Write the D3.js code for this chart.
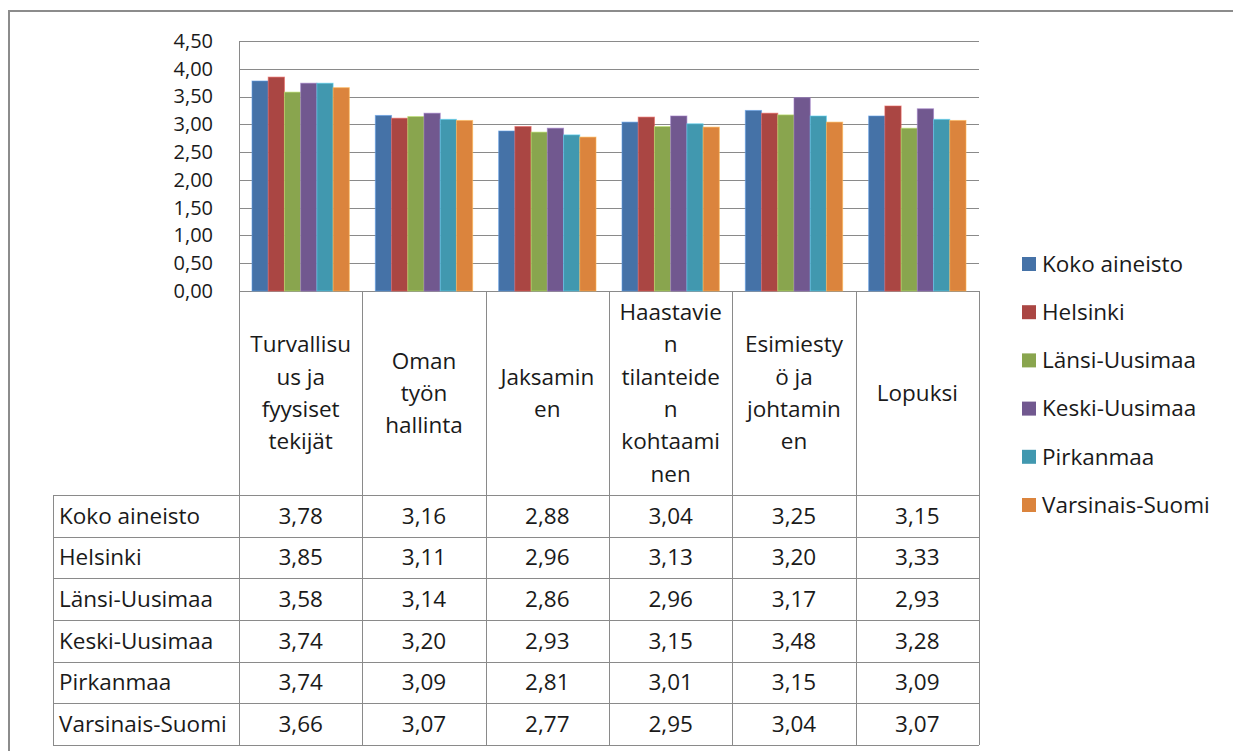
<!DOCTYPE html>
<html>
<head>
<meta charset="utf-8">
<script src="https://cdn.jsdelivr.net/npm/d3@7"></script>
<style>
  html, body { margin: 0; padding: 0; background: #fff; }
  svg text { font-family: "Open Sans", sans-serif; fill: #1a1a1a; }
</style>
</head>
<body>
<svg id="chart" width="1233" height="751"></svg>
<script>
// Category headers, already wrapped into the lines shown in the table header
const categories = [
  "Turvallisuus ja fyysiset tekijät",
  "Oman työn hallinta",
  "Jaksaminen",
  "Haastavien tilanteiden kohtaaminen",
  "Esimiestyö ja johtaminen",
  "Lopuksi"
];
const categoryLines = [
  ["Turvallisu", "us ja", "fyysiset", "tekijät"],
  ["Oman", "työn", "hallinta"],
  ["Jaksamin", "en"],
  ["Haastavie", "n", "tilanteide", "n", "kohtaami", "nen"],
  ["Esimiesty", "ö ja", "johtamin", "en"],
  ["Lopuksi"]
];

const seriesNames = ["Koko aineisto", "Helsinki", "Länsi-Uusimaa", "Keski-Uusimaa", "Pirkanmaa", "Varsinais-Suomi"];

const kokoAineisto   = [3.78, 3.16, 2.88, 3.04, 3.25, 3.15];
const helsinki       = [3.85, 3.11, 2.96, 3.13, 3.20, 3.33];
const lansiUusimaa   = [3.58, 3.14, 2.86, 2.96, 3.17, 2.93];
const keskiUusimaa   = [3.74, 3.20, 2.93, 3.15, 3.48, 3.28];
const pirkanmaa      = [3.74, 3.09, 2.81, 3.01, 3.15, 3.09];
const varsinaisSuomi = [3.66, 3.07, 2.77, 2.95, 3.04, 3.07];

const yTicks = [0, 0.5, 1, 1.5, 2, 2.5, 3, 3.5, 4, 4.5];

const colors = ["#4572A7", "#AA4643", "#89A54E", "#71588F", "#4198AF", "#DB843D"];

const seriesValues = [kokoAineisto, helsinki, lansiUusimaa, keskiUusimaa, pirkanmaa, varsinaisSuomi];
const series = seriesNames.map((name, i) => ({ name, values: seriesValues[i], color: colors[i] }));

const fmt = v => d3.format(".2f")(v).replace(".", ",");

// Layout
const plot = { left: 239, right: 979, top: 41, bottom: 291 };
const headerBottom = 495;
const tableBottom = 745;
const labelColLeft = 53;
const fontSize = 22.5;
const tickFontSize = 20;
const gridColor = "#8a8a8a";
const crisp = v => Math.round(v) + 0.5;

const svg = d3.select("#chart");

// Outer chart frame (top and left edges visible)
svg.append("path")
  .attr("d", `M9,752 L9,11 L1234,11`)
  .attr("fill", "none")
  .attr("stroke", "#8c8c8c")
  .attr("stroke-width", 2);

const x = d3.scaleBand().domain(categories).range([plot.left, plot.right]).paddingInner(0).paddingOuter(0);
const xs = d3.scaleBand().domain(seriesNames).range([13, x.bandwidth() - 13]).padding(0);
const y = d3.scaleLinear().domain([0, 4.5]).range([plot.bottom, plot.top]);

// Gridlines
svg.append("g")
  .call(d3.axisLeft(y).tickValues(yTicks).tickSize(0).tickFormat(""))
  .call(g => g.select(".domain").remove())
  .call(g => g.selectAll(".tick").attr("transform", d => `translate(0,${crisp(y(d))})`))
  .call(g => g.selectAll(".tick line")
    .attr("x1", plot.left).attr("x2", plot.right)
    .attr("stroke", gridColor));

// Y tick labels
svg.append("g")
  .attr("transform", `translate(${plot.left - 26},0)`)
  .call(d3.axisLeft(y).tickValues(yTicks).tickSize(0).tickPadding(0).tickFormat(fmt))
  .call(g => g.select(".domain").remove())
  .call(g => g.selectAll(".tick text")
    .attr("font-size", tickFontSize)
    .attr("font-family", null)
    .attr("fill", "#1a1a1a"));

// Bars
const groups = svg.append("g").selectAll("g")
  .data(series)
  .join("g")
  .attr("fill", d => d.color);

groups.selectAll("rect")
  .data(d => d.values.map((v, i) => ({ v, cat: categories[i], s: d })))
  .join("rect")
  .attr("x", d => x(d.cat) + xs(d.s.name))
  .attr("y", d => y(d.v))
  .attr("width", xs.bandwidth())
  .attr("height", d => y(0) - y(d.v))
  .attr("stroke", d => d3.color(d.s.color).brighter(0.9))
  .attr("stroke-opacity", 0.6)
  .attr("stroke-width", 1);

// Table grid
const tbl = svg.append("g")
  .attr("stroke", gridColor)
  .attr("stroke-width", 1);

// vertical category boundaries
const boundaries = categories.map(c => x(c)).concat([plot.right]);
tbl.selectAll("line.v")
  .data(boundaries)
  .join("line")
  .attr("class", "v")
  .attr("x1", d => crisp(d)).attr("x2", d => crisp(d))
  .attr("y1", (d, i) => i === 0 ? plot.top : plot.bottom)
  .attr("y2", tableBottom);

// row lines
const rowY = d3.scaleBand().domain(seriesNames).range([headerBottom, tableBottom]);
const rowLines = [headerBottom].concat(seriesNames.map(n => rowY(n) + rowY.bandwidth()));
tbl.selectAll("line.h")
  .data(rowLines)
  .join("line")
  .attr("class", "h")
  .attr("x1", labelColLeft).attr("x2", plot.right)
  .attr("y1", d => crisp(d)).attr("y2", d => crisp(d));

tbl.append("line")
  .attr("x1", crisp(labelColLeft)).attr("x2", crisp(labelColLeft))
  .attr("y1", headerBottom).attr("y2", tableBottom);

// Header labels
const lineH = 32.3;
const headerMid = (plot.bottom + headerBottom) / 2;
const headers = svg.append("g").selectAll("text")
  .data(categories.map((c, i) => ({ c, lines: categoryLines[i] })))
  .join("text")
  .attr("text-anchor", "middle")
  .attr("font-size", fontSize)
  .attr("x", d => x(d.c) + x.bandwidth() / 2)
  .attr("y", d => headerMid - (d.lines.length - 1) * lineH / 2);
headers.selectAll("tspan")
  .data(d => d.lines.map((l, k) => ({ l, k, cx: x(d.c) + x.bandwidth() / 2 })))
  .join("tspan")
  .attr("x", d => d.cx)
  .attr("dy", d => d.k === 0 ? "0.35em" : lineH)
  .text(d => d.l);

// Row labels and values
const rows = svg.append("g").selectAll("g")
  .data(series)
  .join("g")
  .attr("transform", d => `translate(0,${rowY(d.name) + rowY.bandwidth() / 2})`);

rows.append("text")
  .attr("x", labelColLeft + 6)
  .attr("dy", "0.35em")
  .attr("font-size", fontSize)
  .text(d => d.name);

rows.selectAll("text.val")
  .data(d => d.values.map((v, i) => ({ v, cat: categories[i] })))
  .join("text")
  .attr("class", "val")
  .attr("x", d => x(d.cat) + x.bandwidth() / 2)
  .attr("dy", "0.35em")
  .attr("text-anchor", "middle")
  .attr("font-size", fontSize)
  .text(d => fmt(d.v));

// Legend
const legendY = d3.scalePoint().domain(seriesNames).range([264, 505]);
const legend = svg.append("g").selectAll("g")
  .data(series)
  .join("g")
  .attr("transform", d => `translate(1022,${legendY(d.name)})`);

legend.append("rect")
  .attr("x", 0).attr("y", -7)
  .attr("width", 14).attr("height", 14)
  .attr("fill", d => d.color);

legend.append("text")
  .attr("x", 20)
  .attr("dy", "0.35em")
  .attr("font-size", fontSize)
  .text(d => d.name);
</script>
</body>
</html>
